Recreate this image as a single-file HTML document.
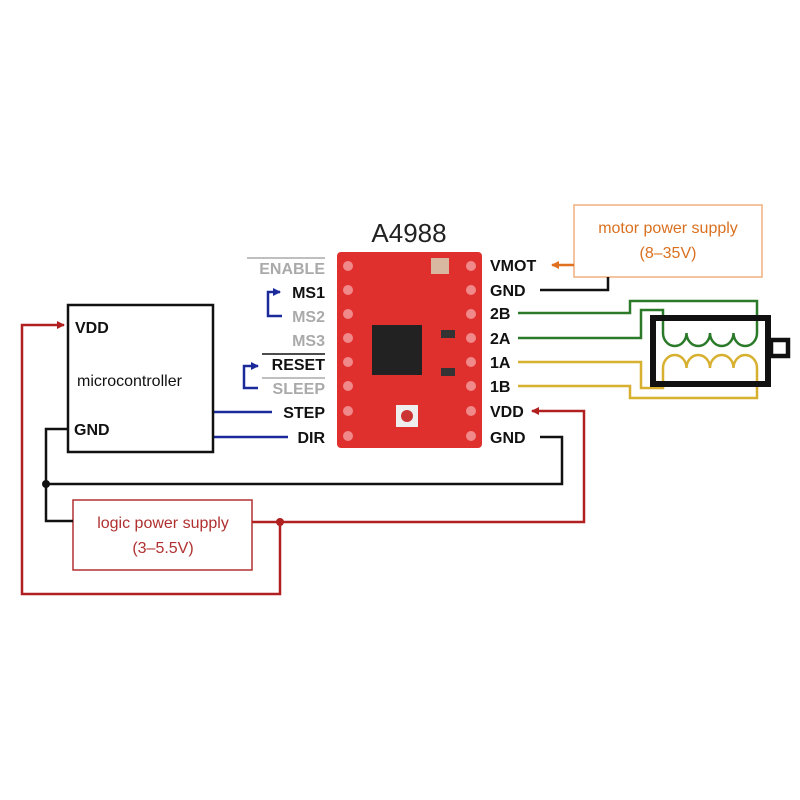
<!DOCTYPE html>
<html><head><style>body{margin:0;background:#fff}svg{display:block}</style></head>
<body>
<svg width="800" height="800" viewBox="0 0 800 800" xmlns="http://www.w3.org/2000/svg" font-family="Liberation Sans, sans-serif">
<defs>
<marker id="ar" markerWidth="8" markerHeight="8" refX="7" refY="4" orient="auto" markerUnits="userSpaceOnUse"><path d="M0,0 L8,4 L0,8z" fill="#b02020"/></marker>
<marker id="ao" markerWidth="8" markerHeight="8" refX="7" refY="4" orient="auto" markerUnits="userSpaceOnUse"><path d="M0,0 L8,4 L0,8z" fill="#e07020"/></marker>
<marker id="ab" markerWidth="8" markerHeight="8" refX="7" refY="4" orient="auto" markerUnits="userSpaceOnUse"><path d="M0,0 L8,4 L0,8z" fill="#1a2a9a"/></marker>
</defs>
<text x="409" y="242" font-size="26" text-anchor="middle" fill="#222">A4988</text>
<rect x="337" y="252" width="145" height="196" rx="4" fill="#e0302e"/>
<g fill="#f5a0a0" opacity="0.8">
<circle cx="348" cy="266" r="5"/><circle cx="348" cy="290" r="5"/><circle cx="348" cy="314" r="5"/><circle cx="348" cy="338" r="5"/><circle cx="348" cy="362" r="5"/><circle cx="348" cy="386" r="5"/><circle cx="348" cy="411" r="5"/><circle cx="348" cy="436" r="5"/>
<circle cx="471" cy="266" r="5"/><circle cx="471" cy="290" r="5"/><circle cx="471" cy="314" r="5"/><circle cx="471" cy="338" r="5"/><circle cx="471" cy="362" r="5"/><circle cx="471" cy="386" r="5"/><circle cx="471" cy="411" r="5"/><circle cx="471" cy="436" r="5"/>
</g>
<rect x="372" y="325" width="50" height="50" fill="#222"/>
<rect x="431" y="258" width="18" height="16" fill="#d8b8a0"/>
<rect x="396" y="405" width="22" height="22" fill="#eee"/>
<circle cx="407" cy="416" r="6" fill="#c33"/>
<rect x="441" y="330" width="14" height="8" fill="#333"/><rect x="441" y="368" width="14" height="8" fill="#333"/>
<g font-size="16" font-weight="bold" text-anchor="end">
<text x="325" y="274" fill="#aaa">ENABLE</text>
<line x1="247" y1="258" x2="325" y2="258" stroke="#aaa" stroke-width="1.5"/>
<text x="325" y="298" fill="#111">MS1</text>
<text x="325" y="322" fill="#aaa">MS2</text>
<text x="325" y="346" fill="#aaa">MS3</text>
<text x="325" y="370" fill="#111">RESET</text>
<line x1="262" y1="354" x2="325" y2="354" stroke="#111" stroke-width="1.5"/>
<text x="325" y="394" fill="#aaa">SLEEP</text>
<line x1="262" y1="378" x2="325" y2="378" stroke="#aaa" stroke-width="1.5"/>
<text x="325" y="418" fill="#111">STEP</text>
<text x="325" y="443" fill="#111">DIR</text>
</g>
<g fill="none" stroke="#1a2a9a" stroke-width="2.5">
<path d="M282,316 H268 V292 H280" marker-end="url(#ab)"/>
<path d="M258,388 H244 V366 H258" marker-end="url(#ab)"/>
<path d="M213,412 H272"/><path d="M213,437 H288"/>
</g>
<g font-size="16" font-weight="bold" fill="#111">
<text x="490" y="271">VMOT</text><text x="490" y="296">GND</text><text x="490" y="319">2B</text><text x="490" y="344">2A</text><text x="490" y="368">1A</text><text x="490" y="392">1B</text><text x="490" y="417">VDD</text><text x="490" y="443">GND</text>
</g>
<rect x="574" y="205" width="188" height="72" fill="none" stroke="#f0b080" stroke-width="1.5"/>
<text x="668" y="233" font-size="16" fill="#d97020" text-anchor="middle">motor power supply</text>
<text x="668" y="258" font-size="16" fill="#d97020" text-anchor="middle">(8–35V)</text>
<path d="M574,265 H552" stroke="#e07020" stroke-width="2.5" marker-end="url(#ao)"/>
<path d="M540,290 H608 V277" fill="none" stroke="#111" stroke-width="2.5"/>
<g fill="none" stroke-width="2.5">
<path d="M518,313 H630 V301 H757 V333" stroke="#2a7a2a"/>
<path d="M518,338 H641 V310 H663 V333" stroke="#2a7a2a"/>
<path d="M663,333 a11.75,13 0 0 0 23.5,0 a11.75,13 0 0 0 23.5,0 a11.75,13 0 0 0 23.5,0 a11.75,13 0 0 0 23.5,0" stroke="#2a7a2a"/>
<path d="M518,362 H641 V388 H663 V368" stroke="#d8b030"/>
<path d="M518,386 H630 V398 H757 V368" stroke="#d8b030"/>
<path d="M663,368 a11.75,13 0 0 1 23.5,0 a11.75,13 0 0 1 23.5,0 a11.75,13 0 0 1 23.5,0 a11.75,13 0 0 1 23.5,0" stroke="#d8b030"/>
</g>
<rect x="653" y="318" width="115" height="66" fill="none" stroke="#111" stroke-width="6"/>
<rect x="771" y="340" width="17" height="16" fill="none" stroke="#111" stroke-width="4.5"/>
<rect x="68" y="305" width="145" height="147" fill="none" stroke="#111" stroke-width="2.5"/>
<text x="75" y="333" font-size="16" font-weight="bold" fill="#111">VDD</text>
<text x="77" y="386" font-size="16" fill="#111">microcontroller</text>
<text x="74" y="435" font-size="16" font-weight="bold" fill="#111">GND</text>
<rect x="73" y="500" width="179" height="70" fill="none" stroke="#b03030" stroke-width="1.5"/>
<text x="163" y="528" font-size="16" fill="#b03030" text-anchor="middle">logic power supply</text>
<text x="163" y="553" font-size="16" fill="#b03030" text-anchor="middle">(3–5.5V)</text>
<g fill="none" stroke="#111" stroke-width="2.5">
<path d="M68,429 H46 V521 H73"/>
<path d="M46,484 H562 V437 H540"/>
</g>
<circle cx="46" cy="484" r="4" fill="#111"/>
<g fill="none" stroke="#b02020" stroke-width="2.5">
<path d="M252,522 H584 V411 H532" marker-end="url(#ar)"/>
<path d="M280,522 V594 H22 V325 H64" marker-end="url(#ar)"/>
</g>
<circle cx="280" cy="522" r="4" fill="#b02020"/>
</svg>
</body></html>
